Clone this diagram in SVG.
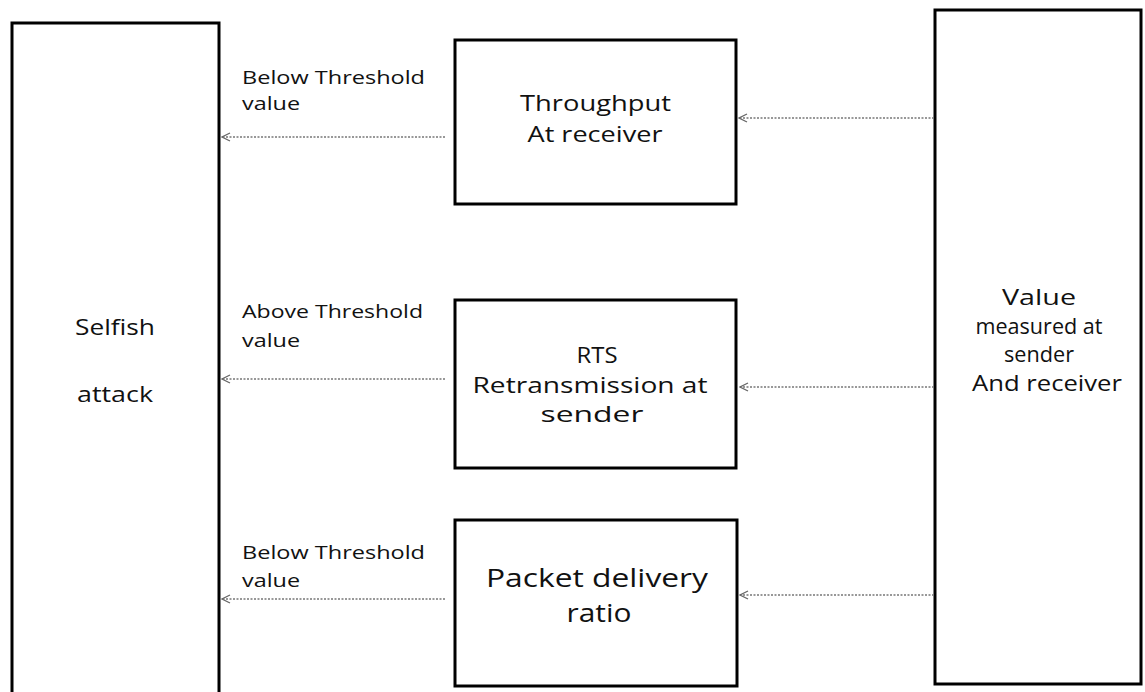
<svg xmlns="http://www.w3.org/2000/svg" width="1145" height="692" viewBox="0 0 1145 692">
<style>
.box{fill:#fff;stroke:#000;stroke-width:3}
.lbl{font-family:"Open Sans","Noto Sans","Liberation Sans",sans-serif;font-size:18px;fill:#111}
.node{font-family:"Open Sans","Noto Sans","Liberation Sans",sans-serif;font-size:21px;fill:#111;text-anchor:middle}
.big{font-family:"Open Sans","Noto Sans","Liberation Sans",sans-serif;font-size:26px;fill:#111;text-anchor:middle}
.conn{stroke:#777;stroke-width:1.5;stroke-dasharray:2 1.5;fill:none;marker-end:url(#arr)}
</style>
<defs>
<marker id="arr" viewBox="0 0 10 10" refX="9" refY="5" markerWidth="10" markerHeight="10" markerUnits="userSpaceOnUse" orient="auto">
<path d="M1,1 L9,5 L1,9" fill="none" stroke="#666" stroke-width="1.3"/>
</marker>
</defs>
<rect width="1145" height="692" fill="#fff"/>
<g id="selfish">
<rect class="box" x="12" y="23" width="207" height="690"/>
<text class="node" x="115" y="335" textLength="80" lengthAdjust="spacingAndGlyphs">Selfish</text>
<text class="node" x="115" y="402" textLength="76" lengthAdjust="spacingAndGlyphs">attack</text>
</g>
<g id="measured">
<rect class="box" x="935" y="10" width="206" height="674"/>
<text class="node" x="1039" y="305" textLength="74" lengthAdjust="spacingAndGlyphs">Value</text>
<text class="node" x="1039" y="334" textLength="127" lengthAdjust="spacingAndGlyphs">measured at</text>
<text class="node" x="1039" y="362" textLength="70" lengthAdjust="spacingAndGlyphs">sender</text>
<text class="node" x="1047" y="391" textLength="150" lengthAdjust="spacingAndGlyphs">And receiver</text>
</g>
<g id="throughput">
<rect class="box" x="455" y="40" width="281" height="164" stroke-width="2.5"/>
<text class="node" x="595.500" y="111" textLength="151" lengthAdjust="spacingAndGlyphs">Throughput</text>
<text class="node" x="595" y="142" textLength="135" lengthAdjust="spacingAndGlyphs">At receiver</text>
</g>
<g id="rts">
<rect class="box" x="455" y="300" width="281" height="168" stroke-width="2.5"/>
<text class="node" x="597" y="363" textLength="41" lengthAdjust="spacingAndGlyphs">RTS</text>
<text class="node" x="590" y="393" textLength="235" lengthAdjust="spacingAndGlyphs">Retransmission at</text>
<text class="node" x="592" y="422" textLength="103" lengthAdjust="spacingAndGlyphs">sender</text>
</g>
<g id="pdr">
<rect class="box" x="455" y="520" width="282" height="166" stroke-width="2.5"/>
<text class="big" x="597" y="587" textLength="222" lengthAdjust="spacingAndGlyphs">Packet delivery</text>
<text class="big" x="599" y="622" textLength="65" lengthAdjust="spacingAndGlyphs">ratio</text>
</g>
<g id="connectors">
<line class="conn" x1="445" y1="137" x2="222" y2="137"/>
<line class="conn" x1="934" y1="118" x2="739" y2="118"/>
<line class="conn" x1="445" y1="379" x2="222" y2="379"/>
<line class="conn" x1="934" y1="387" x2="740" y2="387"/>
<line class="conn" x1="445" y1="599" x2="222" y2="599"/>
<line class="conn" x1="934" y1="595" x2="740" y2="595"/>
<text class="lbl" x="242" y="84" textLength="183" lengthAdjust="spacingAndGlyphs">Below Threshold</text>
<text class="lbl" x="242" y="110" textLength="58" lengthAdjust="spacingAndGlyphs">value</text>
<text class="lbl" x="242" y="318" textLength="181" lengthAdjust="spacingAndGlyphs">Above Threshold</text>
<text class="lbl" x="242" y="347" textLength="58" lengthAdjust="spacingAndGlyphs">value</text>
<text class="lbl" x="242" y="559" textLength="183" lengthAdjust="spacingAndGlyphs">Below Threshold</text>
<text class="lbl" x="242" y="587" textLength="58" lengthAdjust="spacingAndGlyphs">value</text>
</g>
</svg>
